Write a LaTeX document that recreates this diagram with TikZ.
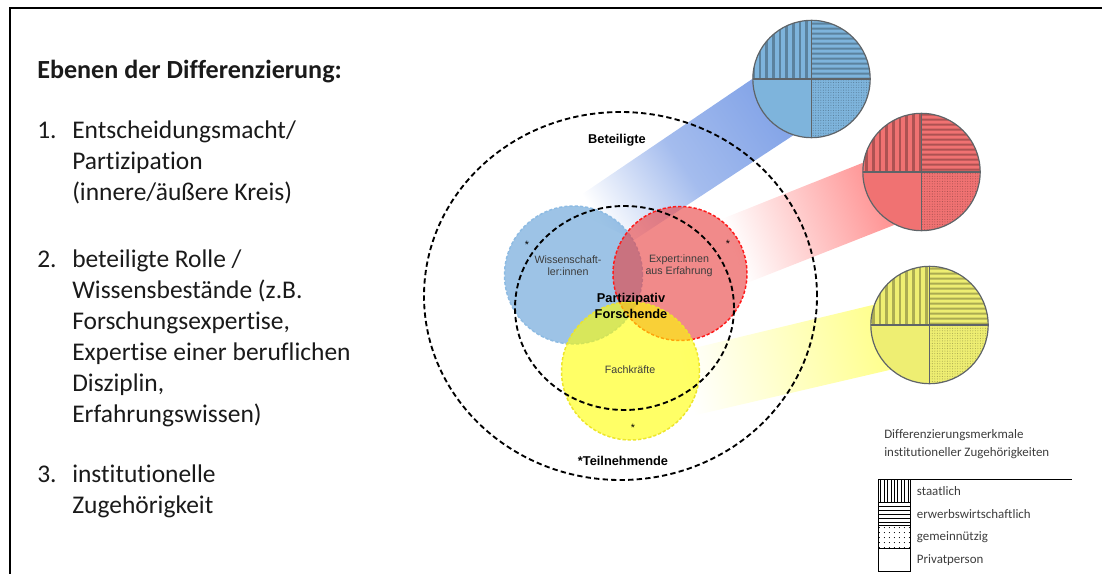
\documentclass[tikz,border=0pt]{standalone}
\usepackage{fontspec}
\setmainfont{Carlito}[Ligatures=NoCommon]
\newfontfamily\arialfont{Liberation Sans}
\usetikzlibrary{positioning,shapes.geometric,patterns.meta,backgrounds,calc}
\definecolor{ink}{HTML}{1A1A1A}
\definecolor{inkSoft}{HTML}{3C3C3C}
\definecolor{cBlue}{HTML}{5B9BD5}
\definecolor{cRed}{HTML}{E83C3C}
\definecolor{cYel}{HTML}{FFFF00}
\definecolor{cBlueEdge}{HTML}{8DBBE3}
\definecolor{cRedEdge}{HTML}{FF1A1A}
\definecolor{cYelEdge}{HTML}{EDE52A}
\definecolor{bandBlue}{HTML}{86A6E8}
\definecolor{bandRed}{HTML}{FF9393}
\definecolor{bandYel}{HTML}{FFFF90}
\definecolor{pieBlue}{HTML}{7EB4DC}
\definecolor{pieRed}{HTML}{F07272}
\definecolor{pieYel}{HTML}{EEEE72}
\definecolor{pieEdge}{HTML}{5F6468}
\newcommand\lvind{\hspace*{26.25pt}}
\newcommand\lvnum[1]{\strut\makebox[26.25pt][l]{#1}}

\begin{document}
\begin{tikzpicture}[
  x=0.75pt, y=-0.75pt,
  font=\arialfont\fontsize{8}{9.2}\selectfont, text=ink,
  frame/.style={line width=1.5pt, draw=black},
  ring/.style={ellipse, draw=black, line width=1.4pt, dash pattern=on 4pt off 2.4pt,
               inner sep=0pt},
  blob/.style={circle, inner sep=0pt, minimum size=#1, line width=1.1pt,
               dash pattern=on 2.4pt off 1.5pt, fill opacity=0.6},
  pie/.style={circle, draw=pieEdge, line width=0.9pt, inner sep=0pt, minimum size=88pt,
              fill=#1, path picture={
    \fill[pattern={Lines[angle=90,distance=5pt,line width=2.2pt]}, pattern color=#1!72!black]
      (path picture bounding box.north west) rectangle (path picture bounding box.center);
    \fill[pattern={Lines[angle=0,distance=4pt,line width=1.8pt]}, pattern color=#1!72!black]
      (path picture bounding box.north) rectangle (path picture bounding box.east);
    \fill[pattern={Dots[radius=0.4pt,distance=1.9pt]}, pattern color=#1!70!black]
      (path picture bounding box.center) rectangle (path picture bounding box.south east);
    \draw[pieEdge, line width=0.9pt]
      (path picture bounding box.west) -- (path picture bounding box.east)
      (path picture bounding box.north) -- (path picture bounding box.south);}},
  lbl/.style={align=center, inner sep=0pt, text=inkSoft},
  bold/.style={align=center, inner sep=0pt, text=black,
               font=\arialfont\bfseries\fontsize{9.6}{12}\selectfont},
  star/.style={inner sep=0pt, text=black},
  levels/.style={anchor=north west, inner sep=0pt, align=left,
                 font=\fontsize{19.1}{23.25}\selectfont},
  legbox/.style={draw, line width=0.6pt, minimum width=24pt, minimum height=17.4pt,
                 inner sep=0pt, outer sep=0pt},
  legtxt/.style={right=5pt of #1, inner sep=0pt, text=inkSoft,
                 font=\fontsize{9.7}{11}\selectfont},
]
\useasboundingbox (0,0) rectangle (1102,574);

% frame (open to the right and bottom)
\coordinate (fTR) at (1102,8);
\coordinate (fTL) at (10,8);
\coordinate (fBL) at (10,574);
\draw[frame] (fTR) -- (fTL) -- (fBL);

% levels of differentiation
\node[anchor=base west, inner sep=0pt, font=\bfseries\fontsize{19.6}{23.25}\selectfont]
  (levhead) at (37,79) {Ebenen der Differenzierung:};
\node[levels] (lev1) at (37,116.3)
  {\lvnum{1.}Entscheidungsmacht/\\\lvind Partizipation\\\lvind(innere/äußere Kreis)};
\node[levels] (lev2) at (37,245.3)
  {\lvnum{2.}beteiligte Rolle /\\\lvind Wissensbestände (z.B.\\\lvind Forschungsexpertise,\\
   \lvind Expertise einer beruflichen\\\lvind Disziplin,\\\lvind Erfahrungswissen)};
\node[levels] (lev3) at (37,460.3)
  {\lvnum{3.}institutionelle\\\lvind Zugehörigkeit};

% role circles
\node[blob=103.5pt, fill=cBlue, draw=cBlueEdge] (wiss) at (573.5,275) {};
\node[blob=100.5pt, fill=cRed, draw=cRedEdge] (expe) at (680,273.5) {};
\node[blob=103.5pt, fill=cYel, draw=cYelEdge] (fach) at (630.5,371) {};

% inner / outer circle
\node[ring, minimum width=294.75pt, minimum height=276pt] (outer) at (620.5,296) {};
\node[ring, minimum width=164.25pt, minimum height=153pt] (inner) at (624.5,308) {};

% institutional pies
\node[pie=pieBlue] (bluepie) at (811.5,79) {};
\node[pie=pieRed] (redpie) at (921.5,172) {};
\node[pie=pieYel] (yelpie) at (929.5,325) {};

% beams from the roles to their pies
\begin{scope}[on background layer]
  \shade[top color=white, bottom color=bandBlue, middle color=bandBlue!75, shading angle=124]
    (wiss.97) -- (bluepie.180) -- (bluepie.252) -- (wiss.30) -- cycle;
  \shade[top color=white, bottom color=bandRed, shading angle=111]
    (expe.53) -- (redpie.171) -- (redpie.243) -- (expe.352) -- cycle;
  \shade[top color=white, bottom color=bandYel, shading angle=103.5]
    ($(fach.center)+(43,-18)$) -- (yelpie.160) -- (yelpie.229) -- ($(fach.center)+(57,46)$) -- cycle;
\end{scope}

% labels
\node[bold] (beteiligte) at (617,140) {Beteiligte};
\node[bold] (teilnehm) at (623,461) {*Teilnehmende};
\node[bold] (partfor) at (631,306) {Partizipativ\\Forschende};
\node[lbl] (twiss) at (568,266) {Wissenschaft-\\ler:innen};
\node[lbl] (texpe) at (679,266) {Expert:innen\\aus Erfahrung};
\node[lbl] (tfach) at (630,370) {Fachkräfte};
\node[star] (s1) at (527,245) {*};
\node[star] (s2) at (728,244) {*};
\node[star] (s3) at (633,428) {*};

% legend
\node[anchor=west, align=left, inner sep=0pt, text=inkSoft, font=\fontsize{9.7}{13.5}\selectfont]
  (legtitle) at (884,444) {Differenzierungsmerkmale\\institutioneller Zugehörigkeiten};
\coordinate (legL) at (878,479);
\coordinate (legR) at (1072,479);
\draw[line width=0.6pt] (legL) -- (legR);
\node[legbox, anchor=north west, pattern={Lines[angle=90,distance=2.6pt,line width=0.6pt]}]
  (lstaat) at (legL) {};
\node[legbox, below=0pt of lstaat, pattern={Lines[angle=0,distance=3pt,line width=0.6pt]}]
  (lerwerb) {};
\node[legbox, below=0pt of lerwerb, pattern={Dots[radius=0.45pt,distance=4pt]}] (lgemein) {};
\node[legbox, below=0pt of lgemein] (lprivat) {};
\node[legtxt=lstaat] (tstaat) {staatlich};
\node[legtxt=lerwerb] (terwerb) {erwerbswirtschaftlich};
\node[legtxt=lgemein] (tgemein) {gemeinnützig};
\node[legtxt=lprivat] (tprivat) {Privatperson};

\end{tikzpicture}
\end{document}
